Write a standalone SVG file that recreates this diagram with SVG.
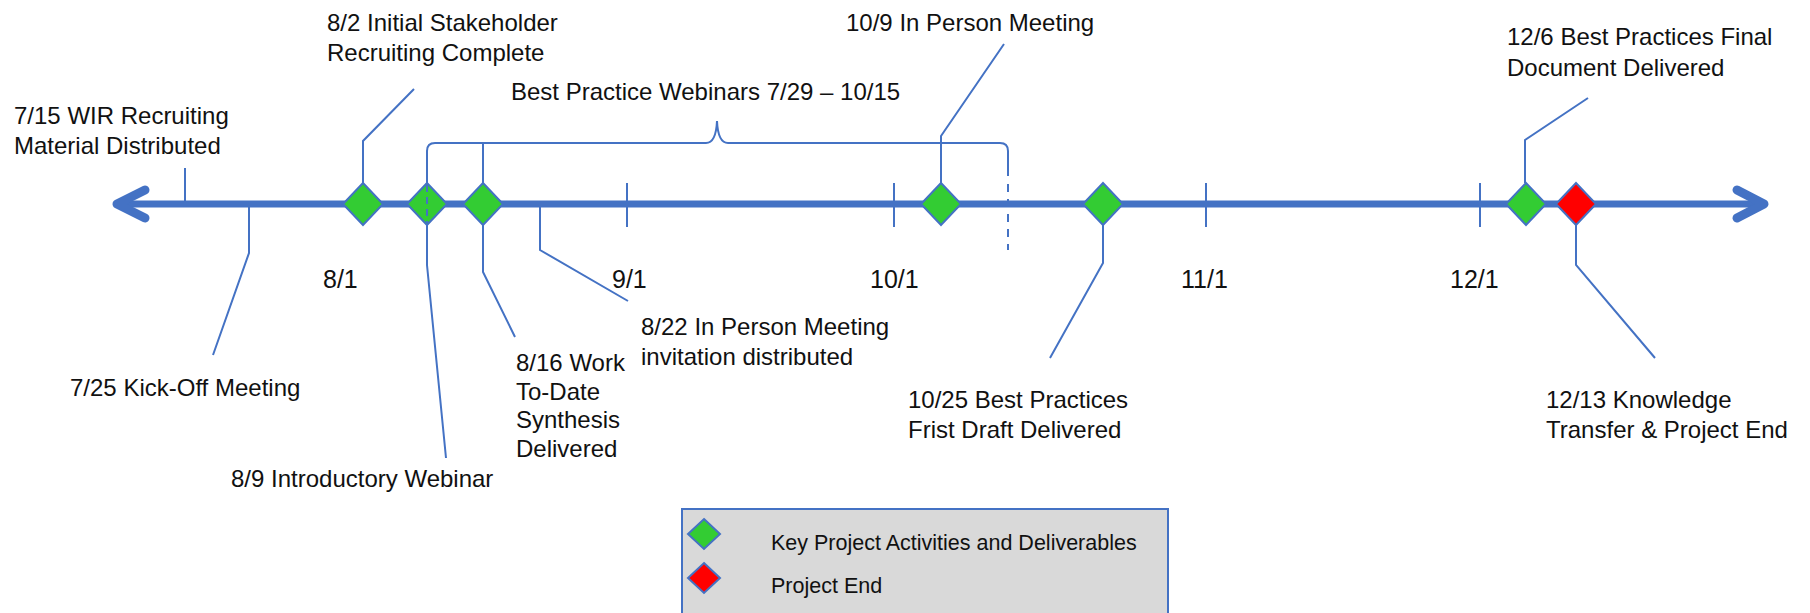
<svg xmlns="http://www.w3.org/2000/svg" width="1810" height="613" viewBox="0 0 1810 613">
  <style>
    .t { font-family: "Liberation Sans", Arial, sans-serif; font-size: 24px; fill: #111; }
    .m { font-family: "Liberation Sans", Arial, sans-serif; font-size: 25px; fill: #111; }
    .lg { font-family: "Liberation Sans", Arial, sans-serif; font-size: 21.5px; fill: #111; }
    .ln { stroke: #4472c4; stroke-width: 2; fill: none; }
    .axis { stroke: #4472c4; stroke-width: 7; fill: none; }
    .head { stroke: #4472c4; stroke-width: 9; fill: none; stroke-linecap: round; stroke-linejoin: round; }
    .tick { stroke: #4472c4; stroke-width: 2; }
    .g { fill: #33cc33; stroke: #4472c4; stroke-width: 2; }
    .r { fill: #ff0000; stroke: #4472c4; stroke-width: 2; }
  </style>
  <defs>
    <path id="dm" d="M0,-21 L20,0 L0,21 L-20,0 Z"/>
    <path id="dms" d="M0,-15 L16,0 L0,15 L-16,0 Z"/>
  </defs>
  <rect width="1810" height="613" fill="#ffffff"/>

  <g id="axis">
    <line class="axis" x1="120" y1="204" x2="1760" y2="204"/>
    <polyline class="head" points="145,190 117,204 145,218"/>
    <polyline class="head" points="1737,190 1764,204 1737,218"/>
    <line class="tick" x1="627" y1="183" x2="627" y2="227"/>
    <line class="tick" x1="894" y1="183" x2="894" y2="227"/>
    <line class="tick" x1="1206" y1="183" x2="1206" y2="227"/>
    <line class="tick" x1="1480" y1="183" x2="1480" y2="227"/>
  </g>

  <g id="month-labels">
    <text class="m" x="323" y="288">8/1</text>
    <text class="m" x="612" y="288">9/1</text>
    <text class="m" x="870" y="288">10/1</text>
    <text class="m" x="1181" y="288">11/1</text>
    <text class="m" x="1450" y="288">12/1</text>
  </g>

  <g id="connectors">
    <polyline class="ln" points="185,168 185,204"/>
    <polyline class="ln" points="249,206 249,253 213,355"/>
    <polyline class="ln" points="363,183 363,141 414,89"/>
    <path class="ln" d="M427,183 V151 Q427,143 435,143 H706 Q716,143 717,121 Q718,143 728,143 H1000 Q1008,143 1008,151 V176"/>
    <line class="ln" x1="1008" y1="184" x2="1008" y2="250" stroke-dasharray="8,7"/>
    <polyline class="ln" points="427,225 427,265 446,458"/>
    <polyline class="ln" points="483,183 483,143"/>
    <polyline class="ln" points="483,225 483,272 515,337"/>
    <polyline class="ln" points="540,207 540,250 628,301"/>
    <polyline class="ln" points="941,183 941,136 1004,44"/>
    <polyline class="ln" points="1103,225 1103,263 1050,358"/>
    <polyline class="ln" points="1525,183 1525,140 1588,98"/>
    <polyline class="ln" points="1576,225 1576,265 1655,358"/>
  </g>

  <g id="n-0715">
    <text class="t" x="14" y="124">7/15 WIR Recruiting</text>
    <text class="t" x="14" y="154">Material  Distributed</text>
  </g>
  <g id="n-0725">
    <text class="t" x="70" y="396">7/25 Kick-Off Meeting</text>
  </g>
  <g id="n-0802">
    <use href="#dm" class="g" x="363" y="204"/>
    <text class="t" x="327" y="31">8/2 Initial Stakeholder</text>
    <text class="t" x="327" y="61">Recruiting Complete</text>
  </g>
  <g id="n-0809">
    <use href="#dm" class="g" x="427" y="204"/>
    <line class="ln" x1="427" y1="185" x2="427" y2="223" stroke-dasharray="7,5"/>
    <text class="t" x="231" y="487">8/9 Introductory Webinar</text>
  </g>
  <g id="n-0816">
    <use href="#dm" class="g" x="483" y="204"/>
    <text class="t" x="516" y="371">8/16 Work</text>
    <text class="t" x="516" y="400">To-Date</text>
    <text class="t" x="516" y="428">Synthesis</text>
    <text class="t" x="516" y="457">Delivered</text>
  </g>
  <g id="n-0822">
    <text class="t" x="641" y="335">8/22 In Person Meeting</text>
    <text class="t" x="641" y="365">invitation  distributed</text>
  </g>
  <g id="n-webinars">
    <text class="t" x="511" y="100">Best Practice Webinars 7/29 – 10/15</text>
  </g>
  <g id="n-1009">
    <use href="#dm" class="g" x="941" y="204"/>
    <text class="t" x="846" y="31">10/9 In Person Meeting</text>
  </g>
  <g id="n-1025">
    <use href="#dm" class="g" x="1103" y="204"/>
    <text class="t" x="908" y="408">10/25 Best Practices</text>
    <text class="t" x="908" y="438">Frist Draft Delivered</text>
  </g>
  <g id="n-1206">
    <use href="#dm" class="g" x="1526" y="204"/>
    <text class="t" x="1507" y="45">12/6 Best Practices Final</text>
    <text class="t" x="1507" y="76">Document Delivered</text>
  </g>
  <g id="n-1213">
    <use href="#dm" class="r" x="1576" y="204"/>
    <text class="t" x="1546" y="408">12/13 Knowledge</text>
    <text class="t" x="1546" y="438">Transfer &amp; Project End</text>
  </g>

  <g id="legend">
    <rect x="682" y="509" width="486" height="110" fill="#d9d9d9" stroke="#4472c4" stroke-width="2"/>
    <use href="#dms" class="g" x="704" y="534"/>
    <use href="#dms" class="r" x="704" y="578"/>
    <text class="lg" x="771" y="550">Key Project Activities and Deliverables</text>
    <text class="lg" x="771" y="593">Project End</text>
  </g>
</svg>
